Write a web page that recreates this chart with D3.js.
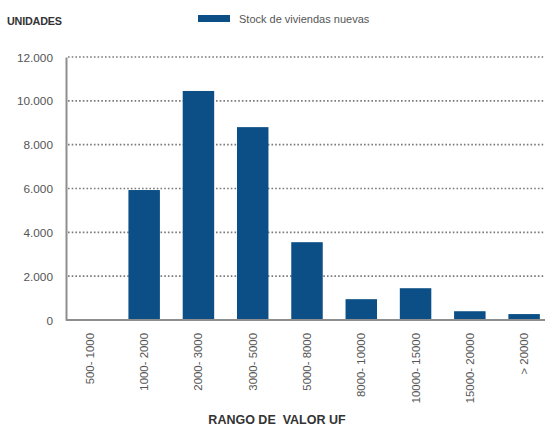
<!DOCTYPE html>
<html>
<head>
<meta charset="utf-8">
<script src="https://cdn.jsdelivr.net/npm/d3@7"></script>
<style>
  body { margin: 0; background: #fff; }
  svg { display: block; font-family: "Liberation Sans", Arial, sans-serif; }
</style>
</head>
<body>
<svg id="chart" width="545" height="426"></svg>
<script>
const categories = ["500- 1000", "1000- 2000", "2000- 3000", "3000- 5000", "5000- 8000", "8000- 10000", "10000- 15000", "15000- 20000", "> 20000"];
const stock = [0, 5930, 10450, 8800, 3550, 950, 1450, 400, 270];
const yTicks = [0, 2000, 4000, 6000, 8000, 10000, 12000];
const seriesName = "Stock de viviendas nuevas";
const yTitle = "UNIDADES";
const xTitle = "RANGO DE  VALOR UF";

const svg = d3.select("#chart");
const mLeft = 66, mRight = 548, mTop = 57, mBottom = 320;
const barColor = "#0b4f86";
const axisColor = "#8e8e8e";

const x = d3.scaleBand().domain(categories).range([mLeft, mRight]).paddingInner(0.42).paddingOuter(0.15);
const y = d3.scaleLinear().domain([0, 12000]).range([mBottom, mTop]);

const fmt = d3.formatLocale({decimal: ",", thousands: ".", grouping: [3], currency: ["$", ""]}).format(",");

// gridlines
svg.append("g").selectAll("line").data(yTicks.filter(d => d > 0)).join("line")
  .attr("x1", mLeft + 2).attr("x2", 545)
  .attr("y1", d => y(d)).attr("y2", d => y(d))
  .attr("stroke", "#7a7a7a").attr("stroke-width", 1.6)
  .attr("stroke-dasharray", "1.6,2.1");

// bars
svg.append("g").selectAll("rect").data(categories).join("rect")
  .attr("x", d => x(d))
  .attr("width", x.bandwidth())
  .attr("y", (d, i) => y(stock[i]))
  .attr("height", (d, i) => y(0) - y(stock[i]))
  .attr("fill", barColor);

// y axis
const yAxis = svg.append("g").attr("transform", `translate(${mLeft},0)`)
  .call(d3.axisLeft(y).tickValues(yTicks).tickFormat(fmt).tickSize(0).tickPadding(13));
yAxis.select(".domain").attr("stroke", axisColor).attr("stroke-width", 2);
yAxis.selectAll("text").attr("fill", "#555").style("font-size", "11.8px").attr("dy", "0.35em");

// x axis
const xAxis = svg.append("g").attr("transform", `translate(0,${mBottom})`)
  .call(d3.axisBottom(x).tickSize(0).tickPadding(0));
xAxis.select(".domain").attr("d", `M${mLeft},0H545`).attr("stroke", axisColor).attr("stroke-width", 2.2);
xAxis.selectAll("text")
  .attr("transform", "rotate(-90)")
  .attr("text-anchor", "end")
  .attr("x", -13).attr("y", 0).attr("dy", "0.35em")
  .attr("fill", "#555").style("font-size", "11.4px");

// titles
svg.append("text").attr("x", 7).attr("y", 25).text(yTitle)
  .attr("font-weight", "bold").style("font-size", "10.8px").attr("fill", "#333").attr("letter-spacing", "-0.2");
svg.append("text").attr("x", 277).attr("y", 424).attr("text-anchor", "middle").text(xTitle)
  .style("white-space", "pre")
  .attr("font-weight", "bold").style("font-size", "12.5px").attr("fill", "#333");

// legend
svg.append("rect").attr("x", 198).attr("y", 15).attr("width", 32).attr("height", 7).attr("fill", barColor);
svg.append("text").attr("x", 239).attr("y", 22.5).text(seriesName)
  .style("font-size", "11px").attr("fill", "#555");
</script>
</body>
</html>
